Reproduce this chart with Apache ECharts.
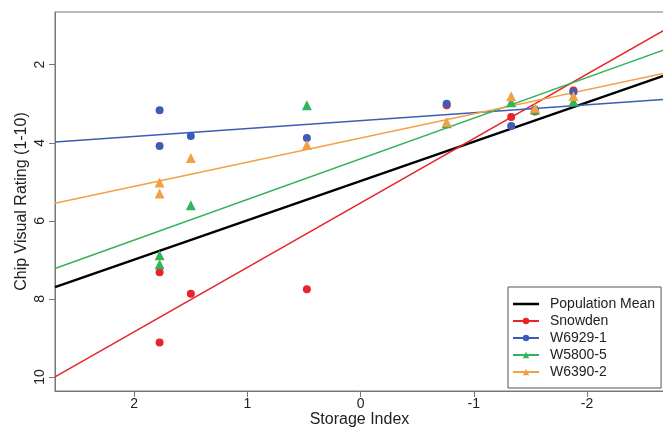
<!DOCTYPE html>
<html>
<head>
<meta charset="utf-8">
<script src="https://cdn.jsdelivr.net/npm/echarts@6/dist/echarts.min.js"></script>
<style>html,body{margin:0;padding:0;background:#fff}#c{width:663px;height:429px}</style>
</head>
<body>
<div id="c"></div>
<script>
var seriesNames = ['Population Mean', 'Snowden', 'W6929-1', 'W5800-5', 'W6390-2'];
var xTicks = [2, 1, 0, -1, -2];
var yTicks = [2, 4, 6, 8, 10];
// Regression line end points: x at left/right edge of plot, fitted rating at those x
var lineX = [2.70, -2.68];
var meanLine = [7.70, 2.28];
var snowdenLine = [10.00, 1.12];
var w6929Line = [3.98, 2.89];
var w5800Line = [7.22, 1.62];
var w6390Line = [5.55, 2.22];
// Observed points
var snowdenX = [1.776, 1.776, 1.50, 0.475, -0.76, -1.33, -1.54, -1.88];
var snowdenY = [7.32, 9.12, 7.87, 7.75, 3.04, 3.34, 3.20, 2.66];
var w6929X = [1.776, 1.776, 1.50, 0.475, -0.76, -1.33, -1.54, -1.88];
var w6929Y = [3.17, 4.08, 3.83, 3.88, 3.00, 3.57, 3.15, 2.70];
var w5800X = [1.776, 1.776, 1.50, 0.475, -0.76, -1.33, -1.54, -1.88];
var w5800Y = [6.88, 7.11, 5.60, 3.04, 3.50, 2.96, 3.15, 2.94];
var w6390X = [1.776, 1.776, 1.50, 0.475, -0.76, -1.33, -1.54, -1.88];
var w6390Y = [5.02, 5.30, 4.39, 4.06, 3.47, 2.81, 3.10, 2.80];

var colors = ['#000000', '#e8232a', '#3d5db5', '#33b35a', '#f2a046'];
var symbols = ['none', 'circle', 'circle', 'triangle', 'triangle'];
var lineYs = [meanLine, snowdenLine, w6929Line, w5800Line, w6390Line];
var ptsX = [null, snowdenX, w6929X, w5800X, w6390X];
var ptsY = [null, snowdenY, w6929Y, w5800Y, w6390Y];

function zip(xs, ys) { return xs.map(function (x, i) { return [x, ys[i]]; }); }

var series = [];
for (var i = 0; i < seriesNames.length; i++) {
  series.push({
    type: 'line', name: seriesNames[i],
    data: zip(lineX, lineYs[i]),
    symbol: symbols[i], symbolSize: 6, showSymbol: false,
    lineStyle: { color: colors[i], width: i === 0 ? 2.5 : 1.5 },
    itemStyle: { color: colors[i] },
    z: 2
  });
}
for (var j = 1; j < seriesNames.length; j++) {
  series.push({
    type: 'scatter', name: seriesNames[j],
    data: zip(ptsX[j], ptsY[j]),
    symbol: symbols[j], symbolSize: symbols[j] === 'circle' ? 8 : 10,
    itemStyle: { color: colors[j], opacity: 1 },
    z: 3
  });
}

var legendData = seriesNames.map(function (n, k) {
  return k === 0
    ? { name: n, icon: 'path://M0,0L0,0M0,2.75L26,2.75L26,5.25L0,5.25ZM26,8L26,8' }
    : { name: n };
});

var chart = echarts.init(document.getElementById('c'));
chart.setOption({
  animation: false,
  grid: { left: 55, right: -1, top: 12, bottom: 38, outerBoundsMode: 'none', containLabel: false, show: true, borderColor: '#777', borderWidth: 1, backgroundColor: 'transparent' },
  xAxis: {
    type: 'value', inverse: true, min: -2.68, max: 2.70,
    name: 'Storage Index', nameLocation: 'middle', nameGap: 21, nameMoveOverlap: false,
    nameTextStyle: { fontSize: 16, color: '#222', fontFamily: 'Liberation Sans' },
    axisLine: { show: true, onZero: false, lineStyle: { color: '#777' } },
    axisTick: { show: true, length: 6, customValues: xTicks, lineStyle: { color: '#777' } },
    axisLabel: { customValues: xTicks, fontSize: 14, color: '#222', margin: 6, fontFamily: 'Liberation Sans' },
    splitLine: { show: false }
  },
  yAxis: {
    type: 'value', inverse: true, min: 0.65, max: 10.36,
    name: 'Chip Visual Rating (1-10)', nameLocation: 'middle', nameGap: 25, nameMoveOverlap: false,
    nameTextStyle: { fontSize: 16, color: '#222', fontFamily: 'Liberation Sans' },
    axisLine: { show: true, onZero: false, lineStyle: { color: '#777' } },
    axisTick: { show: true, length: 6, customValues: yTicks, lineStyle: { color: '#777' } },
    axisLabel: { customValues: yTicks, fontSize: 14, color: '#222', margin: 8, rotate: 90, fontFamily: 'Liberation Sans' },
    splitLine: { show: false }
  },
  legend: {
    data: legendData, orient: 'vertical', left: 508, top: 287,
    padding: [10, 6, 9, 4], itemWidth: 26, itemHeight: 8, itemGap: 3,
    borderColor: '#555', borderWidth: 1, backgroundColor: '#fff',
    textStyle: { fontSize: 14, color: '#222', fontFamily: 'Liberation Sans', padding: [0, 0, 0, 6] }
  },
  series: series
});
</script>
</body>
</html>
